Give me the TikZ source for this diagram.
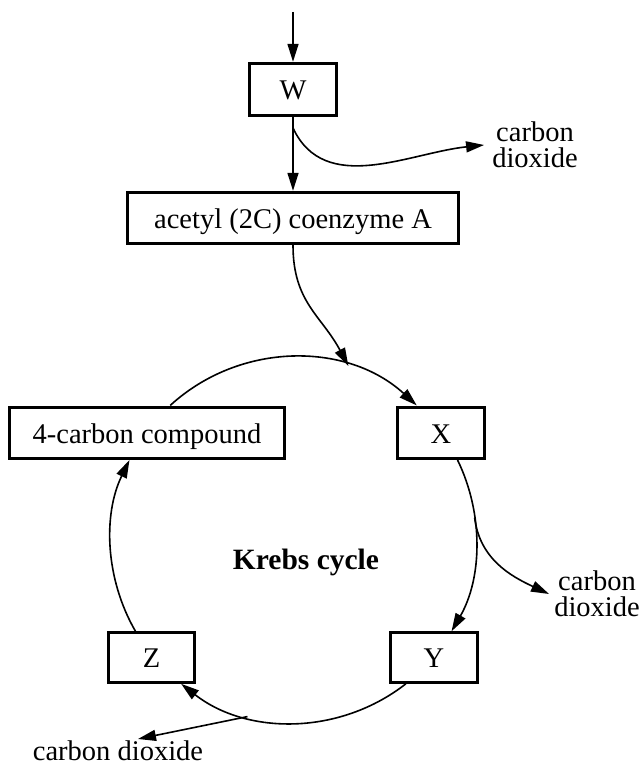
\documentclass[tikz,border=0pt]{standalone}
\usepackage{fontspec}
\setmainfont{Liberation Serif}
\usetikzlibrary{arrows.meta}
\begin{document}
\begin{tikzpicture}[x=1pt,y=1pt,
  box/.style={draw, line width=3.4pt, inner sep=0pt, text height=21pt, text depth=0pt,
              font=\fontsize{28.5}{30}\selectfont},
  flow/.style={line width=1.6pt, -{Triangle[length=18pt,width=11pt]}},
  lbl/.style={font=\fontsize{28.5}{26}\selectfont, align=center, inner sep=0pt}]
\useasboundingbox (0,0) rectangle (641,769);

% boxes
\node[box, minimum width=87pt,  minimum height=52pt] (W)      at (293,679.5) {W};
\node[box, minimum width=331pt, minimum height=51pt] (acetyl) at (293,551)   {acetyl (2C) coenzyme A};
\node[box, minimum width=275pt, minimum height=51pt] (fourC)  at (147,336)   {4-carbon compound};
\node[box, minimum width=87pt,  minimum height=51pt] (X)      at (441,336)   {X};
\node[box, minimum width=86pt,  minimum height=50pt] (Z)      at (151.5,111.5) {Z};
\node[box, minimum width=87pt,  minimum height=50pt] (Y)      at (434,111.5) {Y};

% labels
\node[lbl] (co2a) at (535,624) {carbon\\dioxide};
\node[lbl] (co2b) at (597,175) {carbon\\dioxide};
\node[lbl] (co2c) at (118,18)  {carbon dioxide};
\node[font=\fontsize{29.5}{30}\selectfont\bfseries] (krebs) at (306,207) {Krebs cycle};

% helper points
\coordinate (hub)    at (293.5,229);
\coordinate (feed)   at (293,757);
\coordinate (wsplit) at (293,641);
\coordinate (entry)  at ([shift={(72.5:182.5)}]hub);
\coordinate (xsplit) at ([shift={(7:182.5)}]hub);
\coordinate (ysplit) at ([shift={(-104.6:182.5)}]hub);
\coordinate (c3)     at (138,30);

% link reaction
\draw[flow] (feed) -- (W);
\draw[flow] (W) -- (acetyl);
\draw[flow] (wsplit) to[out=-65,in=186] ([xshift=-8pt]co2a.west);
\draw[flow] (acetyl.south) to[out=-90,in=118,looseness=1.1] (entry);

% the cycle
\draw[flow] ([shift={(132.5:182.5)}]hub) arc[start angle=132.5, end angle=47.5, radius=182.5];
\draw[flow] ([shift={(26:182.5)}]hub)    arc[start angle=26,    end angle=-30,  radius=182.5];
\draw[flow] ([shift={(-52:182.5)}]hub)   arc[start angle=-52,   end angle=-128, radius=182.5];
\draw[flow] ([shift={(-150:182.5)}]hub)  arc[start angle=-150,  end angle=-206, radius=182.5];

% carbon dioxide released
\draw[flow] (xsplit) to[out=-83,in=155] ([xshift=-5pt]co2b.west);
\draw[flow] (ysplit) -- (c3);
\end{tikzpicture}
\end{document}
